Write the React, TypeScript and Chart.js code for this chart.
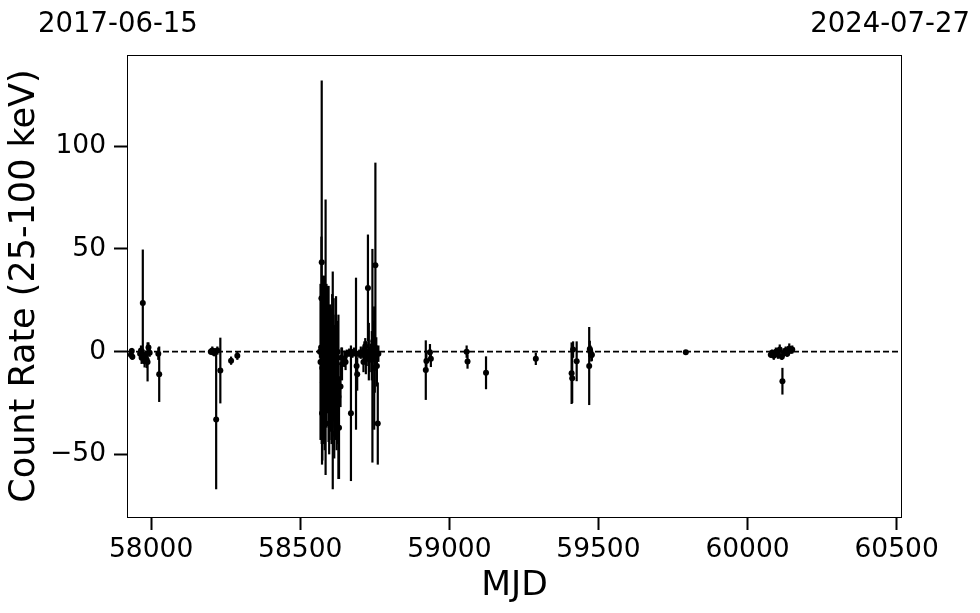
import React, { useEffect, useRef } from 'react';
import { Chart, registerables } from 'chart.js';

Chart.register(...registerables);

const FONT = "'DejaVu Sans', 'Liberation Sans', sans-serif";

// Observation epochs (MJD)
const mjd: number[] = [
  57932, 57935, 57937, 57963, 57966, 57968, 57972, 57975, 57978, 57982, 57985, 57988, 57991, 57995, 58024, 58027,
  58200, 58205, 58210, 58212, 58218, 58222, 58232, 58268, 58289,
  58566, 58568, 58570, 58571, 58572, 58573, 58574, 58576, 58578, 58580, 58582, 58583, 58585, 58588, 58590, 58592, 58595,
  58597, 58598, 58600, 58603, 58605, 58607, 58609, 58612, 58614, 58615, 58618, 58620, 58622, 58624, 58625, 58628,
  58630, 58635, 58638, 58640,
  58648, 58652, 58656, 58664, 58670, 58675, 58680, 58687, 58689, 58691, 58698, 58703, 58708, 58712, 58715, 58718,
  58720, 58723, 58727, 58730, 58733, 58736, 58740, 58742, 58745, 58748, 58750, 58752, 58755, 58757, 58760, 58762,
  58921, 58923, 58935, 58938, 59058, 59061, 59123, 59290, 59410, 59412, 59415, 59427, 59469, 59471, 59473, 59476,
  59478, 59793,
  60078, 60082, 60088, 60095, 60102, 60108, 60115, 60117, 60122, 60128, 60133, 60140, 60145, 60150,
];

// Count rate (25-100 keV)
const rate: number[] = [
  -1.5, 0.3, -2.5, -1, 0.5, -3, 23.7, -2, -4.7, -1.5, -4, -5, 2, -0.5, -1, -11,
  0, 0.5, -0.5, -0.3, -33, 0.5, -9.2, -4.4, -2,
  0, -5, 2, 26, 43.5, -30, -8, -15, 5, -3, -20, 10, 7, -2, -10, 4, -6,
  -35, -18, 1, -9, -25, 8, -14, -4, -40, -12, 3, -8, -28, -15, 0, -22,
  -37, -17, -3, -6,
  -3.5, -5, -1, -0.5, -30, -1, 0, -1, -7, -11, -1, -0.5, -1, -5, 1, 2.6,
  -3, -1, 31, 0, -4, 1, -2, -2, 5, -8, 0, 42, -1, -7, -35, -1,
  -9, -4.5, -0.3, -3.5, 0, -4.8, -10.3, -3.5, -10.5, -13, 1, -4.7, -7, 1.3, 0, -1.8,
  -1.5, -0.3,
  -1.5, -0.5, -2, 0, -1.5, 1, -2.5, -14.4, -0.5, 0.5, -1, 1.5, 0.5, 1,
];

// 1-sigma uncertainties
const rateErr: number[] = [
  1.5, 1.5, 1.5, 2, 2.5, 3, 26, 3, 3, 2, 4, 9.5, 2.5, 2, 3, 13.5,
  1.5, 2, 1.5, 2, 34, 2, 16, 2, 2,
  3, 38, 25, 30, 88.5, 25, 45, 30, 20, 40, 28, 22, 67, 35, 20, 28, 38,
  15, 25, 22, 30, 20, 20, 53, 30, 12, 25, 15, 35, 20, 30, 12, 40,
  25, 10, 5, 8,
  4, 4, 2, 2, 33, 2, 2, 37, 7, 8, 2, 3, 2, 5, 4, 4,
  8, 6, 26, 14, 6, 3, 12, 52, 10, 30, 20, 50, 8, 10, 20, 4,
  14.5, 4, 4, 4, 3, 3.5, 8, 3, 15, 12, 4, 9.7, 19, 4, 3, 3,
  3, 1,
  1.5, 1.5, 2, 2, 2, 2.5, 1.5, 6.5, 2, 2, 1.5, 2.5, 1.5, 2,
];

const xTicks: number[] = [58000, 58500, 59000, 59500, 60000, 60500];
const yTicks: number[] = [-50, 0, 50, 100];
const dateLabels: string[] = ['2017-06-15', '2024-07-27'];
const xRange: number[] = [57919, 60518];
const yRange: number[] = [-80.5, 144.4];
const zeroLevel = 0;

const fmtY = (v: number) => (v < 0 ? '\u2212' + Math.abs(v) : String(v));

export default function App() {
  const ref = useRef<HTMLCanvasElement>(null);

  useEffect(() => {
    if (!ref.current) return;

    const errorBars = {
      id: 'errorBars',
      beforeDatasetsDraw(chart: any) {
        const { ctx, chartArea, scales } = chart;
        const x = scales.x;
        const y = scales.y;
        ctx.save();
        ctx.beginPath();
        ctx.rect(chartArea.left, chartArea.top, chartArea.right - chartArea.left, chartArea.bottom - chartArea.top);
        ctx.clip();
        // zero reference line
        const y0 = y.getPixelForValue(zeroLevel);
        ctx.strokeStyle = '#000';
        ctx.lineWidth = 1.8;
        ctx.setLineDash([6, 3]);
        ctx.beginPath();
        ctx.moveTo(chartArea.left, y0);
        ctx.lineTo(chartArea.right, y0);
        ctx.stroke();
        ctx.setLineDash([]);
        // error bars
        ctx.lineWidth = 2.2;
        ctx.lineCap = 'butt';
        for (let i = 0; i < mjd.length; i++) {
          const px = x.getPixelForValue(mjd[i]);
          const pTop = y.getPixelForValue(rate[i] + rateErr[i]);
          const pBot = y.getPixelForValue(rate[i] - rateErr[i]);
          ctx.beginPath();
          ctx.moveTo(px, pTop);
          ctx.lineTo(px, pBot);
          ctx.stroke();
        }
        ctx.restore();
      },
      afterDraw(chart: any) {
        const { ctx, chartArea } = chart;
        ctx.save();
        ctx.strokeStyle = '#000';
        ctx.lineWidth = 1;
        ctx.strokeRect(chartArea.left + 0.5, chartArea.top + 0.5, chartArea.right - chartArea.left - 1, chartArea.bottom - chartArea.top);
        ctx.fillStyle = '#000';
        ctx.font = `27.5px ${FONT}`;
        ctx.textBaseline = 'alphabetic';
        ctx.textAlign = 'left';
        ctx.fillText(dateLabels[0], chartArea.left - 89, chartArea.top - 23);
        ctx.textAlign = 'right';
        ctx.fillText(dateLabels[1], chartArea.right + 68, chartArea.top - 23);
        ctx.restore();
      },
    };

    const chart = new Chart(ref.current, {
      type: 'scatter',
      data: {
        datasets: [
          {
            data: mjd.map((m, i) => ({ x: m, y: rate[i] })),
            backgroundColor: '#000',
            borderColor: '#000',
            borderWidth: 0,
            pointRadius: 3,
            pointHoverRadius: 3,
          },
        ],
      },
      options: {
        responsive: false,
        animation: false,
        devicePixelRatio: 1,
        layout: { padding: { top: 55, right: 78, left: 0, bottom: 0 } },
        plugins: { legend: { display: false }, tooltip: { enabled: false } },
        scales: {
          x: {
            type: 'linear',
            min: xRange[0],
            max: xRange[1],
            afterBuildTicks: (s: any) => {
              s.ticks = xTicks.map((v) => ({ value: v }));
            },
            afterFit: (s: any) => {
              s.height = 96;
            },
            ticks: {
              color: '#000',
              font: { family: FONT, size: 26.5 },
              padding: 4,
              autoSkip: false,
              maxRotation: 0,
              callback: (v: any) => String(v),
            },
            grid: { drawOnChartArea: false, drawTicks: true, tickLength: 13, tickWidth: 2, tickColor: '#000' },
            border: { display: false },
            title: {
              display: true,
              text: 'MJD',
              color: '#000',
              font: { family: FONT, size: 34.5 },
              padding: { top: 0, bottom: 6 },
            },
          },
          y: {
            type: 'linear',
            min: yRange[0],
            max: yRange[1],
            afterBuildTicks: (s: any) => {
              s.ticks = yTicks.map((v) => ({ value: v }));
            },
            afterFit: (s: any) => {
              s.width = 127;
            },
            ticks: {
              color: '#000',
              font: { family: FONT, size: 26.5 },
              padding: 8,
              autoSkip: false,
              callback: (v: any) => fmtY(Number(v)),
            },
            grid: { drawOnChartArea: false, drawTicks: true, tickLength: 13, tickWidth: 2, tickColor: '#000' },
            border: { display: false },
            title: {
              display: true,
              text: 'Count Rate (25-100 keV)',
              color: '#000',
              font: { family: FONT, size: 35 },
              padding: { top: 4, bottom: 0 },
            },
          },
        },
      },
      plugins: [errorBars],
    } as any);

    return () => chart.destroy();
  }, []);

  return (
    <div style={{ position: 'absolute', left: 0, top: 0, width: 980, height: 613, background: '#fff' }}>
      <canvas ref={ref} width={980} height={613} style={{ display: 'block', width: 980, height: 613 }} />
    </div>
  );
}
